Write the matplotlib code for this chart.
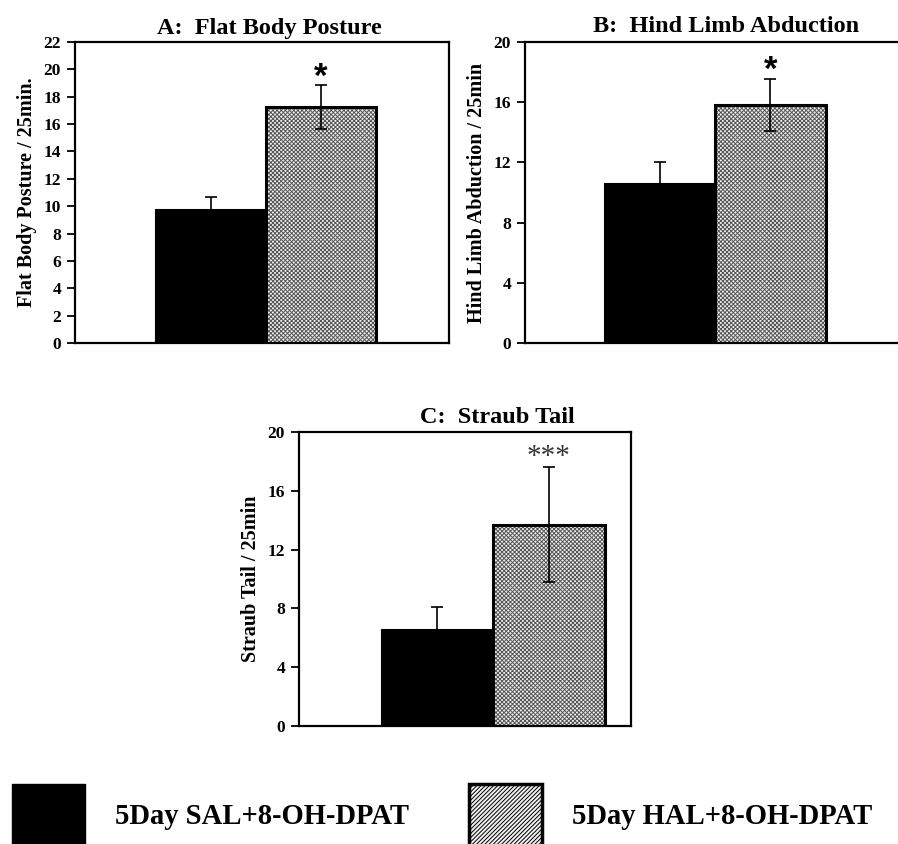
import matplotlib
matplotlib.use("Agg")
import matplotlib.pyplot as plt
from matplotlib.patches import Patch

plt.rcParams['font.family'] = ['Liberation Serif', 'DejaVu Serif']
plt.rcParams['hatch.linewidth'] = 0.7

groups = ["5Day SAL+8-OH-DPAT", "5Day HAL+8-OH-DPAT"]
panel_titles = ["A:  Flat Body Posture", "B:  Hind Limb Abduction", "C:  Straub Tail"]
ylabels = ["Flat Body Posture / 25min.", "Hind Limb Abduction / 25min", "Straub Tail / 25min"]
flat_means = [9.75, 17.25]
flat_sem = [0.95, 1.6]
hind_means = [10.55, 15.8]
hind_sem = [1.5, 1.72]
straub_means = [6.5, 13.7]
straub_sem = [1.62, 3.9]
ymaxes = [22, 20, 20]
ysteps = [2, 4, 4]
sig_marks = ["*", "*", "***"]
sig_y = [19.4, 18.1, 18.3]

W, H = 898, 844
fig = plt.figure(figsize=(W / 100, H / 100), dpi=100)

def px_axes(l, t, r, b):
    return fig.add_axes([l / W, 1 - b / H, (r - l) / W, (b - t) / H])

axA = px_axes(75, 42, 449, 343)
axB = px_axes(525, 42, 928, 343)
axC = px_axes(299, 432, 631, 726)

xlims = [(-1.238, 2.163), (-1.223, 2.427), (-1.241, 1.735)]
title_x = [0.519, 0.5, 0.598]
title_y = [1.027, 1.033, 1.032]

hatch_face = '#f0f0f0'
hatch_col = '#555555'

def draw(ax, means, sems, ymax, ystep, title, ylabel, xl, tx, ty, mark, my):
    xs = [0, 1]
    ax.bar(xs[0], means[0], width=1.0, color='black', edgecolor='black', linewidth=1.5, zorder=2)
    ax.bar(xs[1], means[1], width=1.0, color=hatch_face, edgecolor=hatch_col, linewidth=0,
           hatch='xxxxxxxx', zorder=2)
    ax.bar(xs[1], means[1], width=1.0, fill=False, edgecolor='black', linewidth=2.2, zorder=3)
    ax.errorbar(xs, means, yerr=sems, fmt='none', ecolor='black', elinewidth=1.2,
                capsize=4, capthick=1.2, zorder=4)
    ax.set_xlim(*xl)
    ax.set_ylim(0, ymax)
    ax.set_yticks(range(0, ymax + 1, ystep))
    ax.set_xticks([])
    for s in ax.spines.values():
        s.set_linewidth(1.6)
    ax.tick_params(axis='y', direction='out', length=6, width=1.3, labelsize=12.5, pad=4)
    for lab in ax.get_yticklabels():
        lab.set_fontweight('bold')
    ax.set_ylabel(ylabel, fontsize=14.5, fontweight='bold', labelpad=5)
    ax.text(tx, ty, title, transform=ax.transAxes, ha='center', va='baseline',
            fontsize=17.5, fontweight='bold')
    if mark == "*":
        ax.text(xs[1], my, mark, ha='center', va='center', fontsize=25, fontweight='bold',
                family='Liberation Sans')
    else:
        ax.text(xs[1], my, mark, ha='center', va='center', fontsize=21, color='#333333')

draw(axA, flat_means, flat_sem, ymaxes[0], ysteps[0], panel_titles[0], ylabels[0],
     xlims[0], title_x[0], title_y[0], sig_marks[0], sig_y[0])
draw(axB, hind_means, hind_sem, ymaxes[1], ysteps[1], panel_titles[1], ylabels[1],
     xlims[1], title_x[1], title_y[1], sig_marks[1], sig_y[1])
draw(axC, straub_means, straub_sem, ymaxes[2], ysteps[2], panel_titles[2], ylabels[2],
     xlims[2], title_x[2], title_y[2], sig_marks[2], sig_y[2])

handles = [Patch(facecolor='black', edgecolor='black', linewidth=1),
           Patch(facecolor=hatch_face, edgecolor='black', linewidth=2.5, hatch='////////')]
leg = fig.legend(handles, groups, loc='lower left', bbox_to_anchor=(12 / W, -0.003),
                 ncol=2, frameon=False, borderpad=0, borderaxespad=0,
                 handlelength=2.55, handleheight=3.0, handletextpad=1.05,
                 columnspacing=2.1, prop={'family': 'Liberation Serif', 'weight': 'bold', 'size': 20.6})

fig.savefig('out.png', dpi=100)
